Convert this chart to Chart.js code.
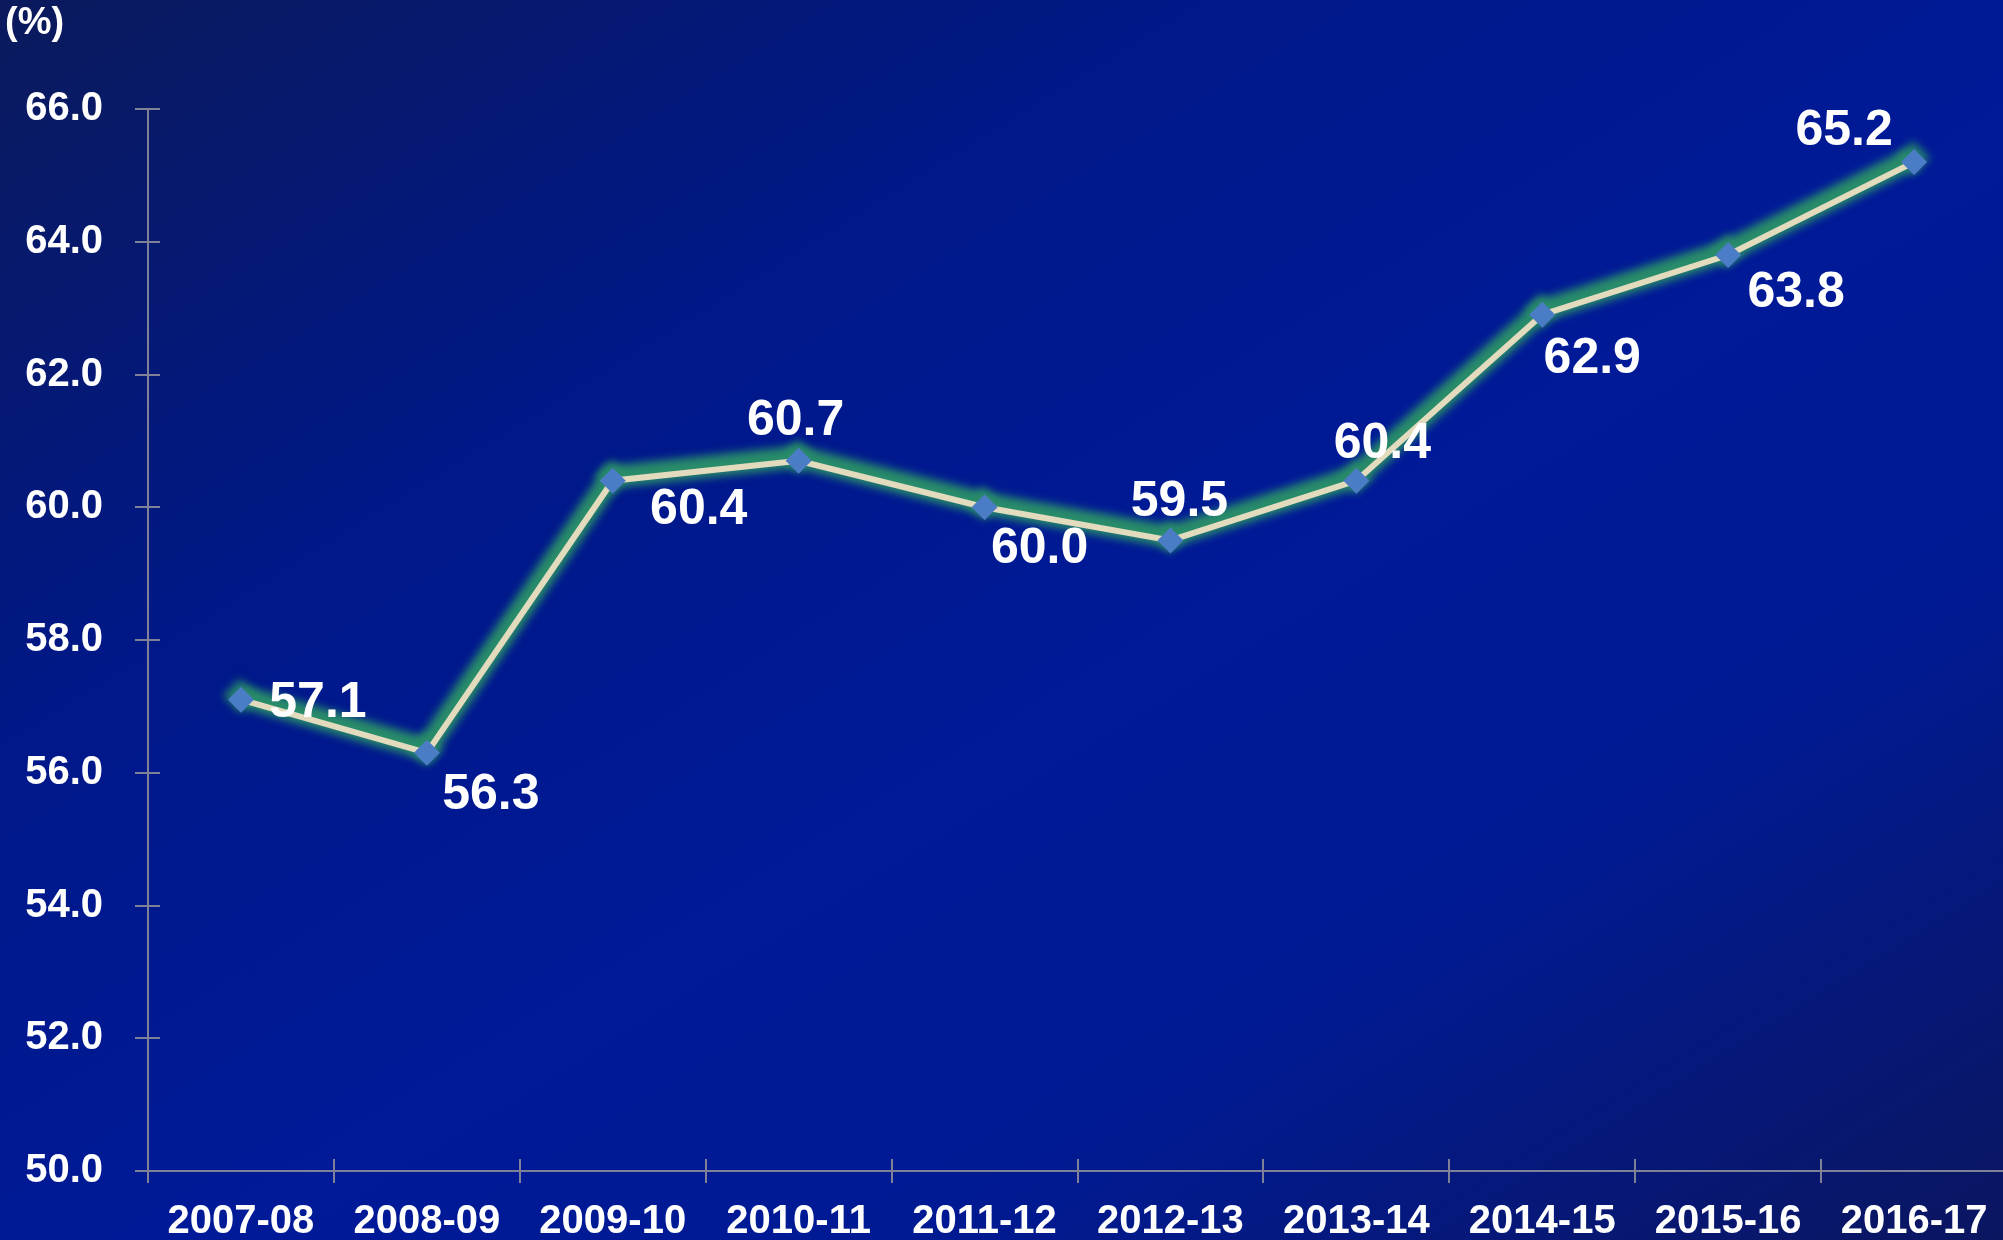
<!DOCTYPE html>
<html>
<head>
<meta charset="utf-8">
<script src="https://cdn.jsdelivr.net/npm/chart.js"></script>
<style>
  html, body { margin: 0; padding: 0; overflow: hidden; }
  body {
    width: 2003px; height: 1240px;
    background: linear-gradient(to bottom right, #0b1a5c 0%, #001888 30%, #001a98 55%, #001a94 72%, #0b1660 100%);
  }
  #wrap { width: 2024px; height: 1240px; }
</style>
</head>
<body>
<div id="wrap"><canvas id="line-chart" width="2024" height="1240"></canvas></div>
<script>
// Years and share values (%)
var years = ['2007-08', '2008-09', '2009-10', '2010-11', '2011-12', '2012-13', '2013-14', '2014-15', '2015-16', '2016-17'];
var shares = [57.1, 56.3, 60.4, 60.7, 60.0, 59.5, 60.4, 62.9, 63.8, 65.2];
var yTicks = [50, 52, 54, 56, 58, 60, 62, 64, 66];

// where each value label sits relative to its point
var labelOffsets = [[77, 3], [64, 42], [86, 30], [-3, -40], [55, 42], [9, -38], [26, -36], [50, 44], [68, 38], [-70, -31]];

var font = '"Liberation Sans", Arial, sans-serif';

// soft green glow under the line, drawn blurred and nudged up
var glowPlugin = {
  id: 'glow',
  beforeDatasetDraw: function (chart, args) {
    if (args.index !== 1) return;
    var ctx = chart.ctx;
    ctx.save();
    ctx.filter = 'blur(4px)';
    ctx.translate(-1, -4);
  },
  afterDatasetDraw: function (chart, args) {
    if (args.index !== 1) return;
    chart.ctx.restore();
  }
};

// axis lines with tick marks crossing them
var axesPlugin = {
  id: 'axesLines',
  beforeDatasetsDraw: function (chart) {
    var ctx = chart.ctx, x = chart.scales.x, y = chart.scales.y, a = chart.chartArea;
    ctx.save();
    ctx.strokeStyle = '#7f8296';
    ctx.lineWidth = 2;
    ctx.beginPath();
    ctx.moveTo(a.left, y.getPixelForValue(66));
    ctx.lineTo(a.left, a.bottom);
    ctx.lineTo(a.right + 5, a.bottom);
    yTicks.forEach(function (v) {
      var py = Math.round(y.getPixelForValue(v));
      ctx.moveTo(a.left - 13, py);
      ctx.lineTo(a.left + 12, py);
    });
    for (var i = 0; i < years.length; i++) {
      var px = Math.round(x.getPixelForValue(i - 0.5));
      ctx.moveTo(px, a.bottom - 12);
      ctx.lineTo(px, a.bottom + 12);
    }
    ctx.stroke();

    ctx.fillStyle = '#ffffff';
    ctx.font = 'bold 38px ' + font;
    ctx.textAlign = 'left';
    ctx.textBaseline = 'middle';
    ctx.fillText('(%)', 5, 24);
    ctx.restore();
  }
};

// value labels next to the points
var valueLabels = {
  id: 'valueLabels',
  afterDatasetsDraw: function (chart) {
    var ctx = chart.ctx;
    var meta = chart.getDatasetMeta(0);
    ctx.save();
    ctx.fillStyle = '#ffffff';
    ctx.font = 'bold 50px ' + font;
    ctx.textAlign = 'center';
    ctx.textBaseline = 'middle';
    meta.data.forEach(function (pt, i) {
      var off = labelOffsets[i];
      ctx.fillText(shares[i].toFixed(1), pt.x + off[0], pt.y + off[1]);
    });
    ctx.restore();
  }
};

var lineChartData = {
  labels: years,
  datasets: [
    {
      data: shares,
      borderColor: '#e2dbbe',
      borderWidth: 6,
      tension: 0,
      pointStyle: 'rectRot',
      pointRadius: 13,
      pointBackgroundColor: '#4b7cc6',
      pointBorderWidth: 0,
      fill: false,
      order: 1
    },
    {
      data: shares,
      borderColor: 'rgba(40, 140, 105, 1)',
      borderWidth: 22,
      tension: 0,
      pointStyle: 'rectRot',
      pointRadius: 17,
      pointBackgroundColor: 'rgba(40, 140, 105, 0.9)',
      pointBorderWidth: 0,
      fill: false,
      order: 2
    }
  ]
};

var lineChartOptions = {
  responsive: false,
  animation: false,
  devicePixelRatio: 1,
  layout: { padding: { top: 109, right: 3, left: 0, bottom: 0 } },
  plugins: {
    legend: { display: false },
    tooltip: { enabled: false }
  },
  scales: {
    x: {
      type: 'category',
      offset: true,
      grid: { display: false, offset: true },
      border: { display: false },
      ticks: {
        color: '#ffffff',
        font: { family: font, size: 40, weight: 'bold' },
        padding: 19,
        maxRotation: 0,
        autoSkip: false
      },
      afterFit: function (s) { s.height = 69; }
    },
    y: {
      min: 50,
      max: 66,
      grid: { display: false },
      border: { display: false },
      afterBuildTicks: function (s) { s.ticks = yTicks.map(function (v) { return { value: v }; }); },
      ticks: {
        color: '#ffffff',
        font: { family: font, size: 40, weight: 'bold' },
        padding: 37,
        callback: function (v) { return Number(v).toFixed(1); }
      },
      afterFit: function (s) { s.width = 148; }
    }
  }
};

var lineChart = new Chart(document.getElementById('line-chart'), {
  type: 'line',
  data: lineChartData,
  options: lineChartOptions,
  plugins: [axesPlugin, glowPlugin, valueLabels]
});
</script>
</body>
</html>
